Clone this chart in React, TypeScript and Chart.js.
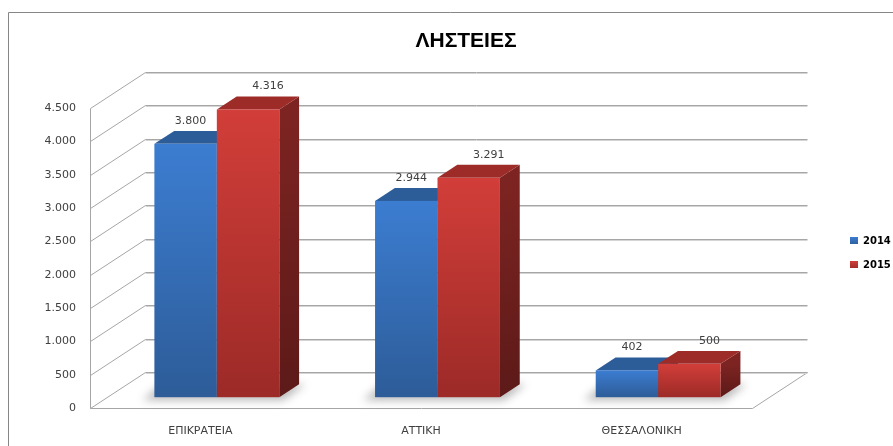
import React, { useEffect, useRef } from "react";
import { Chart, registerables } from "chart.js";

Chart.register(...registerables);

const TITLE = "ΛΗΣΤΕΙΕΣ";
const categories = ["ΕΠΙΚΡΑΤΕΙΑ", "ΑΤΤΙΚΗ", "ΘΕΣΣΑΛΟΝΙΚΗ"];
const seriesNames = ["2014", "2015"];
const values2014 = [3800, 2944, 402];
const values2015 = [4316, 3291, 500];
const yMax = 4500;
const yStep = 500;

const fmt = (v: number) => String(Math.round(v)).replace(/\B(?=(\d{3})+(?!\d))/g, ".");

// 3D look
const WALL = { x: 55, y: -36 };
const BAR_PLANE = 0.3;
const BAR_DEPTH = 0.36;

const faceColors = [
  { top: "#3c7dd1", bottom: "#2d5c98", cap: "#2c5d99", sideTop: "#234c80", sideBottom: "#1d3f6b" },
  { top: "#d23e39", bottom: "#9c2a27", cap: "#9d2c29", sideTop: "#7d2422", sideBottom: "#5c1a18" },
];

const threeD = {
  id: "threeD",
  beforeDraw(chart: any) {
    const ctx = chart.ctx;
    ctx.save();
    ctx.fillStyle = "#ffffff";
    ctx.fillRect(0, 0, chart.width, chart.height);
    // outer frame
    ctx.strokeStyle = "#868686";
    ctx.lineWidth = 1;
    ctx.beginPath();
    ctx.moveTo(8.5, chart.height);
    ctx.lineTo(8.5, 12.5);
    ctx.lineTo(chart.width, 12.5);
    ctx.stroke();
    // title
    ctx.fillStyle = "#000000";
    ctx.font = "bold 21px 'Liberation Sans', Arial, sans-serif";
    ctx.textAlign = "center";
    ctx.textBaseline = "middle";
    ctx.fillText(TITLE, 466, 41);
    // legend
    const ly = [241, 265];
    seriesNames.forEach((name, i) => {
      const c = faceColors[i];
      const g = ctx.createLinearGradient(0, ly[i] - 4, 0, ly[i] + 4);
      g.addColorStop(0, c.top);
      g.addColorStop(1, c.bottom);
      ctx.fillStyle = g;
      ctx.fillRect(850, ly[i] - 4, 8, 7);
      ctx.fillStyle = "#000000";
      ctx.font = "bold 10px 'DejaVu Sans', sans-serif";
      ctx.textAlign = "left";
      ctx.textBaseline = "middle";
      ctx.fillText(name, 863, ly[i]);
    });
    ctx.restore();
  },
  beforeDatasetsDraw(chart: any) {
    const ctx = chart.ctx;
    const area = chart.chartArea;
    const ys = chart.scales.y;
    const L = area.left, R = area.right, B = area.bottom;
    const px = (v: number) => Math.round(v) + 0.5;
    ctx.save();
    // floor outline
    ctx.lineWidth = 1;
    ctx.strokeStyle = "#a6a6a6";
    ctx.beginPath();
    ctx.moveTo(px(L), px(B));
    ctx.lineTo(px(R), px(B));
    ctx.lineTo(px(R + WALL.x), px(B + WALL.y));
    ctx.stroke();
    // left wall front edge
    ctx.beginPath();
    ctx.moveTo(px(L), px(ys.getPixelForValue(yMax)));
    ctx.lineTo(px(L), px(B));
    ctx.stroke();
    // gridlines on left wall + back wall
    ys.ticks.forEach((t: any) => {
      const y = ys.getPixelForValue(t.value);
      ctx.strokeStyle = "#d4d4d4";
      ctx.beginPath();
      ctx.moveTo(px(L + WALL.x), px(y + WALL.y) + 1);
      ctx.lineTo(px(R + WALL.x), px(y + WALL.y) + 1);
      ctx.stroke();
      ctx.strokeStyle = "#a6a6a6";
      ctx.beginPath();
      ctx.moveTo(px(L), px(y));
      ctx.lineTo(px(L + WALL.x), px(y + WALL.y));
      ctx.lineTo(px(R + WALL.x), px(y + WALL.y));
      ctx.stroke();
    });

    const ox = WALL.x * BAR_PLANE, oy = WALL.y * BAR_PLANE;
    const dx = WALL.x * BAR_DEPTH, dy = WALL.y * BAR_DEPTH;
    const metas = chart.data.datasets.map((_: any, d: number) => chart.getDatasetMeta(d));
    const n = chart.data.labels.length;

    // soft shadows on the floor
    for (let i = 0; i < n; i++) {
      const first = metas[0].data[i];
      const last = metas[metas.length - 1].data[i];
      const x1 = first.x - first.width / 2 + ox;
      const x2 = last.x + last.width / 2 + ox;
      const base = first.base + oy;
      ctx.save();
      ctx.filter = "blur(4px)";
      ctx.fillStyle = "rgba(0,0,0,0.28)";
      ctx.beginPath();
      ctx.moveTo(x1 - 12, base + 3);
      ctx.lineTo(x2 + 4, base + 3);
      ctx.lineTo(x2 + dx + 6, base + dy);
      ctx.lineTo(x1 + dx - 12, base + dy);
      ctx.closePath();
      ctx.fill();
      ctx.restore();
    }

    // bars
    for (let i = 0; i < n; i++) {
      metas.forEach((meta: any, d: number) => {
        const el = meta.data[i];
        const c = faceColors[d];
        const x1 = el.x - el.width / 2 + ox;
        const x2 = el.x + el.width / 2 + ox;
        const yt = el.y + oy;
        const yb = el.base + oy;
        // side
        const gs = ctx.createLinearGradient(0, yt, 0, yb);
        gs.addColorStop(0, c.sideTop);
        gs.addColorStop(1, c.sideBottom);
        ctx.fillStyle = gs;
        ctx.beginPath();
        ctx.moveTo(x2, yt);
        ctx.lineTo(x2 + dx, yt + dy);
        ctx.lineTo(x2 + dx, yb + dy);
        ctx.lineTo(x2, yb);
        ctx.closePath();
        ctx.fill();
        // top
        ctx.fillStyle = c.cap;
        ctx.beginPath();
        ctx.moveTo(x1, yt);
        ctx.lineTo(x1 + dx, yt + dy);
        ctx.lineTo(x2 + dx, yt + dy);
        ctx.lineTo(x2, yt);
        ctx.closePath();
        ctx.fill();
        // front
        const gf = ctx.createLinearGradient(0, yt, 0, yb);
        gf.addColorStop(0, c.top);
        gf.addColorStop(1, c.bottom);
        ctx.fillStyle = gf;
        ctx.fillRect(x1, yt, x2 - x1, yb - yt);
      });
    }

    // value labels
    ctx.fillStyle = "#404040";
    ctx.font = "11px 'DejaVu Sans', sans-serif";
    ctx.textAlign = "center";
    ctx.textBaseline = "middle";
    const labelShift = [5, 20];
    metas.forEach((meta: any, d: number) => {
      const vals = chart.data.datasets[d].data;
      meta.data.forEach((el: any, i: number) => {
        const cx = el.x + ox + labelShift[d];
        const yt = el.y + oy;
        ctx.fillText(fmt(vals[i]), cx, yt - 23);
      });
    });
    ctx.restore();
    return false;
  },
};

export default function App() {
  const ref = useRef<HTMLCanvasElement | null>(null);
  useEffect(() => {
    document.body.style.margin = "0";
    document.body.style.overflow = "hidden";
    const canvas = ref.current;
    if (!canvas) return;
    const chart = new Chart(canvas, {
      type: "bar",
      data: {
        labels: categories,
        datasets: [
          { label: seriesNames[0], data: values2014, backgroundColor: faceColors[0].top, categoryPercentage: 0.566, barPercentage: 1 },
          { label: seriesNames[1], data: values2015, backgroundColor: faceColors[1].top, categoryPercentage: 0.566, barPercentage: 1 },
        ],
      },
      options: {
        responsive: false,
        animation: false,
        devicePixelRatio: 1,
        layout: { padding: { left: 0, top: 108, right: 141, bottom: 0 } },
        plugins: {
          legend: { display: false },
          title: { display: false },
          tooltip: { enabled: false },
        },
        scales: {
          x: {
            grid: { display: false, drawTicks: false },
            border: { display: false },
            ticks: { padding: 17, color: "#404040", font: { family: "'DejaVu Sans', sans-serif", size: 11 } },
            afterFit: (s: any) => { s.height = 38; },
          },
          y: {
            min: 0,
            max: yMax,
            grid: { display: false, drawTicks: false },
            border: { display: false },
            ticks: {
              stepSize: yStep,
              padding: 14,
              color: "#404040",
              font: { family: "'DejaVu Sans', sans-serif", size: 11 },
              callback: (v: any) => fmt(Number(v)),
            },
            afterFit: (s: any) => { s.width = 90; },
          },
        },
      },
      plugins: [threeD],
    } as any);
    return () => chart.destroy();
  }, []);
  return <canvas ref={ref} width={893} height={446} style={{ display: "block" }} />;
}
